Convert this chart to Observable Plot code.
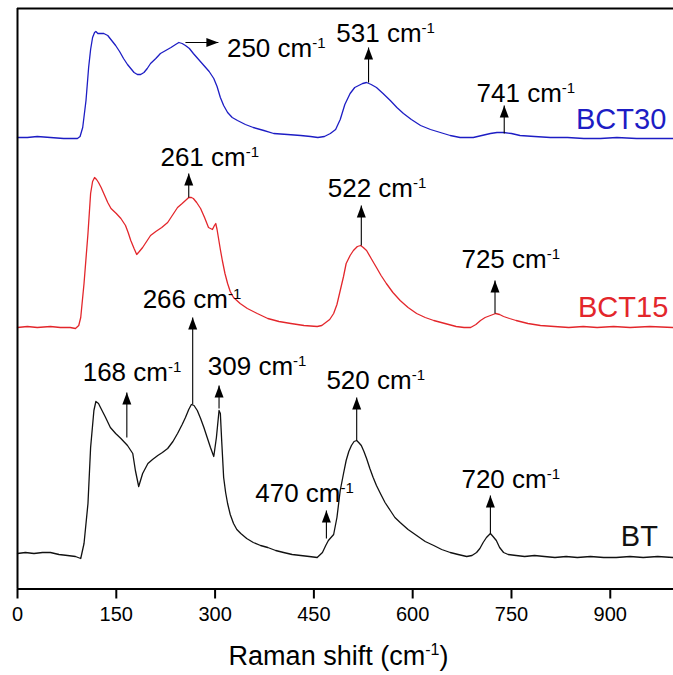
<!DOCTYPE html>
<html><head><meta charset="utf-8">
<script src="https://cdn.jsdelivr.net/npm/d3@7"></script>
<script src="https://cdn.jsdelivr.net/npm/@observablehq/plot@0.6"></script>
<style>body{margin:0;background:#fff} svg{display:block}</style>
</head><body><div id="chart"></div>
<script>
// Raman shift (cm^-1), intensity (a.u., stacked with offsets as plotted)
const btData = [[0,36],[12,37],[25,36],[38,37],[50,37],[63,35],[76,34],[88,33],[96,31],[101,46],[107,86],[111,142],[116,179],[119,188],[123,186],[126,182],[133,173],[141,162],[149,156],[157,151],[167,144],[175,136],[179,119],[184,103],[190,116],[198,126],[205,130],[213,134],[220,137],[228,141],[236,148],[243,156],[250,165],[255,172],[260,180],[264,185],[268,184],[273,179],[278,171],[283,162],[288,152],[293,142],[298,133],[302,152],[306,179],[308,176],[310,149],[313,112],[316,97],[319,86],[323,75],[328,66],[333,60],[339,56],[348,51],[358,47],[369,44],[380,42],[392,39],[404,37],[417,35],[430,34],[443,33],[455,32],[463,37],[468,44],[472,49],[480,55],[485,72],[490,99],[495,116],[499,129],[503,138],[507,144],[511,148],[515,149],[518,147],[522,144],[526,138],[530,131],[535,121],[540,112],[545,104],[551,96],[558,87],[566,79],[573,72],[581,67],[593,60],[606,54],[619,48],[632,44],[644,40],[657,37],[669,35],[682,33],[690,34],[697,37],[702,41],[707,47],[712,52],[718,56],[722,53],[727,49],[732,42],[738,37],[745,35],[757,34],[770,33],[785,34],[800,33],[816,32],[833,33],[850,32],[870,33],[890,32],[909,32],[930,33],[950,32],[972,33],[995,32]];
const bct15Data = [[0,262],[15,263],[30,262],[50,263],[65,262],[80,262],[88,261],[93,264],[96,272],[101,306],[107,356],[111,396],[114,408],[117,412],[120,410],[123,407],[127,402],[131,396],[137,387],[142,381],[150,376],[157,371],[164,364],[168,357],[172,349],[177,341],[181,335],[185,338],[190,342],[196,348],[202,354],[210,358],[219,362],[228,367],[236,375],[243,382],[250,386],[255,389],[260,392],[264,392],[267,391],[272,387],[278,381],[284,372],[290,362],[296,360],[299,364],[301,366],[303,360],[305,352],[308,340],[311,329],[315,316],[319,306],[323,298],[328,292],[338,286],[349,281],[364,276],[380,271],[397,268],[415,266],[435,264],[455,263],[462,264],[468,267],[474,270],[480,276],[485,285],[490,299],[495,313],[499,326],[505,334],[510,339],[516,343],[521,344],[525,342],[530,339],[537,331],[545,322],[552,314],[560,306],[570,297],[581,289],[593,282],[606,276],[619,272],[632,269],[649,266],[666,263],[678,262],[688,262],[696,265],[703,269],[710,272],[718,274],[726,276],[732,275],[738,273],[747,271],[757,269],[775,266],[794,264],[815,263],[837,262],[859,263],[880,262],[905,263],[930,262],[960,263],[995,262]];
const bct30Data = [[0,452],[15,452],[30,453],[50,452],[70,451],[85,451],[91,451],[95,453],[99,462],[104,489],[108,522],[111,540],[114,552],[117,557],[119,558],[122,556],[126,556],[131,556],[137,554],[143,549],[149,544],[155,538],[161,531],[167,525],[172,521],[177,517],[182,515],[187,515],[192,517],[197,521],[202,526],[210,531],[217,536],[225,539],[233,542],[240,545],[245,547],[250,546],[255,544],[261,541],[267,536],[275,530],[283,524],[291,518],[298,511],[303,503],[308,492],[313,484],[319,477],[326,472],[334,469],[346,465],[358,462],[374,459],[389,456],[410,455],[430,454],[445,453],[456,452],[466,453],[475,456],[483,460],[490,470],[497,485],[505,496],[512,502],[518,504],[524,506],[530,507],[537,505],[545,502],[555,496],[566,489],[576,482],[586,476],[598,470],[612,464],[627,460],[642,457],[657,454],[672,452],[682,452],[692,452],[705,454],[718,456],[728,457],[738,457],[750,456],[763,454],[785,453],[809,452],[835,452],[860,451],[885,451],[910,452],[940,451],[970,451],[995,451]];

const seriesNames = ["BT", "BCT15", "BCT30"];
const seriesColors = ["#111111", "#e3262b", "#1d1dc4"];
const seriesLabelX = [916, 851, 848];
const seriesLabelY = [53, 282, 470];

// peak annotations: label, arrow base (x1,y1), arrow tip (x2,y2), label position
const peakLabels = ["250 cm", "531 cm", "741 cm", "261 cm", "522 cm", "725 cm", "266 cm", "168 cm", "309 cm", "470 cm", "520 cm", "720 cm"];
const arrowX1 = [255, 533, 739, 260, 522, 725, 266, 166, 306, 469, 515, 718];
const arrowY1 = [547, 507, 456, 392, 344, 276, 185, 152, 181, 51, 149, 56];
const arrowX2 = [305, 533, 739, 260, 522, 725, 266, 166, 306, 469, 515, 718];
const arrowY2 = [547, 542, 484, 416, 384, 309, 272, 197, 204, 79, 192, 94];
const labelX = [318, 484, 697, 217, 471, 674, 190, 99, 289, 361, 469, 674];
const labelY = [541, 556, 496, 432, 401, 330, 290, 217, 223, 96, 209, 110];

const xTicks = [0, 150, 300, 450, 600, 750, 900];
const xTitle = "Raman shift (cm";

const annos = peakLabels.map((t, i) => ({
  t, x1: arrowX1[i], y1: arrowY1[i], x2: arrowX2[i], y2: arrowY2[i], lx: labelX[i], ly: labelY[i],
  rot: arrowY1[i] === arrowY2[i] ? 90 : 0
}));
const seriesList = [btData, bct15Data, bct30Data];
const seriesLabels = seriesNames.map((n, i) => ({n, c: seriesColors[i], x: seriesLabelX[i], y: seriesLabelY[i]}));

const arrowHead = { draw(ctx) { ctx.moveTo(0, 0); ctx.lineTo(-4.5, 12); ctx.lineTo(4.5, 12); ctx.closePath(); } };

const marks = [
  ...seriesList.map((d, i) => Plot.line(d, {x: p => p[0], y: p => p[1], stroke: seriesColors[i], strokeWidth: 1.3})),
  Plot.link(annos, {x1: "x1", y1: "y1", x2: "x2", y2: "y2", stroke: "#000", strokeWidth: 1.1}),
  Plot.dot(annos, {x: "x2", y: "y2", symbol: arrowHead, rotate: "rot", fill: "#000", stroke: "none", r: 5}),
  Plot.text(annos, {x: "lx", y: "ly", text: "t", textAnchor: "start", fontSize: 26, fill: "#000"}),
  Plot.text(seriesLabels, {x: "x", y: "y", text: "n", textAnchor: "start", fontSize: 29, fill: "c"}),
  Plot.ruleX([0], {stroke: "#000", strokeWidth: 2}),
  Plot.ruleY([581, 0.5], {stroke: "#000", strokeWidth: 2}),
  Plot.axisX({ticks: xTicks, tickSize: 10, tickPadding: 8, label: null, tickFormat: d => String(d), strokeWidth: 2, fontSize: 20}),
  Plot.text([xTitle], {frameAnchor: "bottom", dy: 76, dx: -7, fontSize: 27, fill: "#000"})
];

const svg = Plot.plot({
  width: 673, height: 675,
  marginLeft: 17, marginRight: 0, marginTop: 8, marginBottom: 86.5,
  x: {domain: [0, 996]},
  y: {domain: [0.5, 581], axis: null},
  style: {fontFamily: "'Liberation Sans', Arial, sans-serif", fontSize: "20px", color: "#000", background: "#fff"},
  marks
});

d3.select(svg).selectAll("text").each(function() {
  const el = d3.select(this);
  const txt = this.textContent;
  if (txt === xTitle) {
    el.append("tspan").attr("dy", -10).attr("font-size", 16).text("-1");
    el.append("tspan").attr("dy", 10).attr("font-size", 27).text(")");
  } else if (/ cm$/.test(txt)) {
    el.append("tspan").attr("dy", -9).attr("font-size", 15).text("-1");
  }
});

document.getElementById("chart").appendChild(svg);
</script>
</body></html>
